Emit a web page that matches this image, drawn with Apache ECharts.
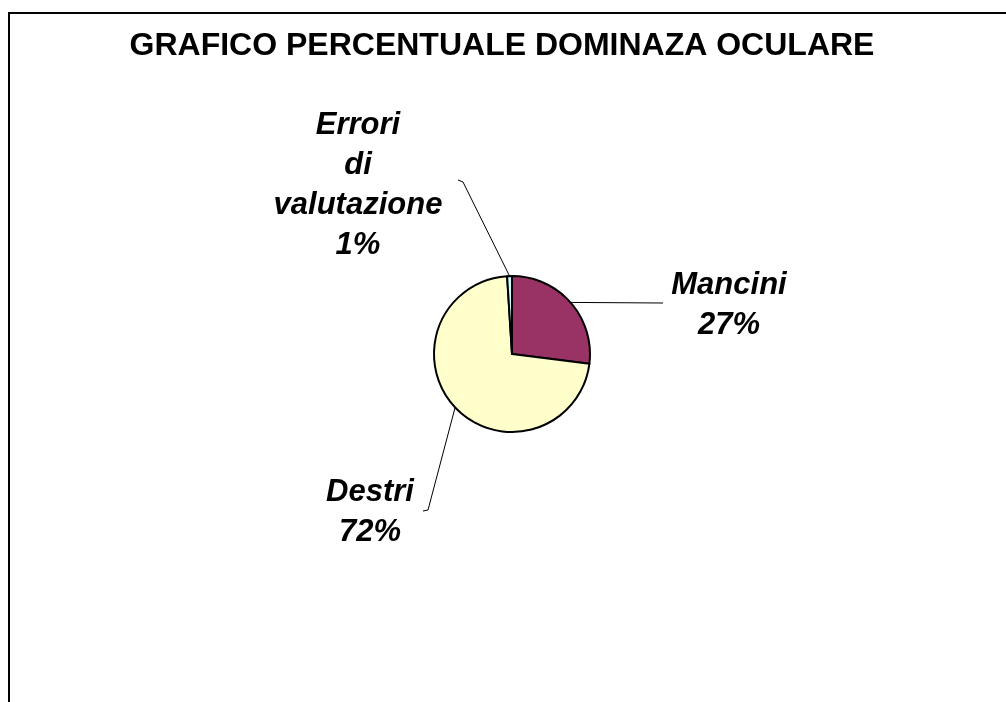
<!DOCTYPE html>
<html>
<head>
<meta charset="utf-8">
<style>
html,body{margin:0;padding:0;background:#fff;}
#chart{width:1006px;height:702px;}
</style>
<script src="https://cdn.jsdelivr.net/npm/echarts@6/dist/echarts.min.js"></script>
</head>
<body>
<div id="chart"></div>
<script>
var title = 'GRAFICO PERCENTUALE DOMINAZA OCULARE';
var categories = ['Mancini', 'Destri', 'Errori di valutazione'];
var values = [27, 72, 1];
var colors = ['#993366', '#FFFFCC', '#CCFFFF'];

// label block centres and leader-line bends (label placement only)
var labelSpots = [
  {x: 729, y: 305, bend: [663, 303], end: [663, 303]},
  {x: 370, y: 512, bend: [428, 510], end: [423, 511]},
  {x: 358, y: 185, bend: [463, 182], end: [458, 180]}
];

var chart = echarts.init(document.getElementById('chart'), null, {renderer: 'canvas'});
var data = categories.map(function (c, i) {
  return {name: c, value: values[i], itemStyle: {color: colors[i]}};
});

chart.setOption({
  animation: false,
  backgroundColor: '#fff',
  graphic: [{
    type: 'rect',
    shape: {x: 9, y: 13, width: 1200, height: 900},
    style: {fill: 'none', stroke: '#000', lineWidth: 2},
    silent: true
  }],
  title: {
    text: title,
    left: 497,
    textAlign: 'center',
    top: 25,
    textStyle: {
      fontFamily: 'Liberation Sans, Arial, sans-serif',
      fontSize: 32,
      fontWeight: 'bold',
      color: '#000'
    }
  },
  series: [{
    type: 'pie',
    center: [512, 354],
    radius: 78,
    startAngle: 90,
    clockwise: true,
    avoidLabelOverlap: false,
    itemStyle: {borderColor: '#000', borderWidth: 2},
    data: data,
    label: {
      show: true,
      position: 'outside',
      formatter: function (p) {
        return p.name.split(' ').join('\n') + '\n' + Math.round(p.percent) + '%';
      },
      fontFamily: 'Liberation Sans, Arial, sans-serif',
      fontSize: 31,
      fontWeight: 'bold',
      fontStyle: 'italic',
      color: '#000',
      lineHeight: 40,
      align: 'center'
    },
    labelLine: {
      show: true,
      lineStyle: {color: '#000', width: 1}
    },
    labelLayout: function (params) {
      var s = labelSpots[params.dataIndex];
      var p0 = params.labelLinePoints ? params.labelLinePoints[0] : s.bend;
      return {
        x: s.x,
        y: s.y,
        align: 'center',
        verticalAlign: 'middle',
        labelLinePoints: [p0, s.bend, s.end]
      };
    },
    emphasis: {disabled: true}
  }]
});
</script>
</body>
</html>
